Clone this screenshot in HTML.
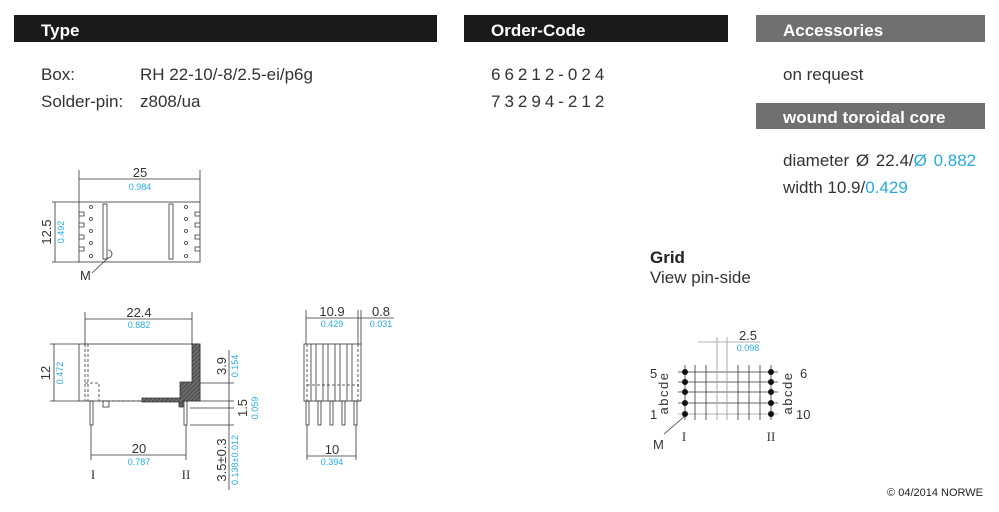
<!DOCTYPE html>
<html><head><meta charset="utf-8"><style>
body{margin:0;width:999px;height:512px;background:#fff;overflow:hidden;font-family:"Liberation Sans",sans-serif}
svg{position:absolute;left:0;top:0}
</style></head><body>
<svg width="999" height="512" viewBox="0 0 999 512" font-family="Liberation Sans, sans-serif">
<defs>
<pattern id="h" width="3" height="3" patternUnits="userSpaceOnUse" patternTransform="rotate(45)"><rect width="3" height="3" fill="#555"/><line x1="0" y1="0" x2="0" y2="3" stroke="#999" stroke-width="1"/></pattern>
</defs>
<rect x="14" y="15" width="423" height="27" fill="#1a1a1a"/>
<text x="41" y="36" fill="#fff" font-size="17" font-weight="bold">Type</text>
<rect x="464" y="15" width="264" height="27" fill="#1a1a1a"/>
<text x="491" y="36" fill="#fff" font-size="17" font-weight="bold">Order-Code</text>
<rect x="756" y="15" width="229" height="27" fill="#707070"/>
<text x="783" y="36" fill="#fff" font-size="17" font-weight="bold">Accessories</text>
<rect x="756" y="103" width="229" height="26" fill="#707070"/>
<text x="783" y="123" fill="#fff" font-size="17" font-weight="bold">wound toroidal core</text>
<g font-size="17" fill="#333">
<text x="41" y="80">Box:</text><text x="140" y="80">RH 22-10/-8/2.5-ei/p6g</text>
<text x="41" y="107">Solder-pin:</text><text x="140" y="107">z808/ua</text>
<text x="491" y="80" letter-spacing="4">66212-024</text>
<text x="491" y="107" letter-spacing="4">73294-212</text>
<text x="783" y="80">on request</text>
<text x="783" y="166" word-spacing="2">diameter  Ø 22.4/<tspan fill="#2aa8e0">Ø 0.882</tspan></text>
<text x="783" y="193">width 10.9/<tspan fill="#2aa8e0">0.429</tspan></text>
<text x="650" y="263" font-weight="bold" fill="#222">Grid</text>
<text x="650" y="283">View pin-side</text>
</g>
<text x="983" y="496" font-size="11" fill="#222" text-anchor="end">© 04/2014 NORWE</text>

<g stroke="#333" fill="none" stroke-width="0.8">
<rect x="79" y="202" width="121" height="60"/>
<line x1="79" y1="170" x2="79" y2="202"/><line x1="200" y1="170" x2="200" y2="202"/>
<line x1="79" y1="179" x2="200" y2="179"/>
<line x1="52" y1="202" x2="79" y2="202"/><line x1="52" y1="262" x2="79" y2="262"/>
<line x1="55" y1="202" x2="55" y2="262"/>
<rect x="103" y="204" width="4" height="55"/><rect x="169" y="204" width="4" height="55"/>
<path d="M79 212h5v4h-5M79 223h5v4h-5M79 235h5v4h-5M79 247h5v4h-5M200 212h-5v4h5M200 223h-5v4h5M200 235h-5v4h5M200 247h-5v4h5"/>
<circle cx="91" cy="207" r="1.5"/><circle cx="91" cy="219" r="1.5"/><circle cx="91" cy="231" r="1.5"/><circle cx="91" cy="243" r="1.5"/><circle cx="91" cy="256" r="1.5"/>
<circle cx="186" cy="207" r="1.5"/><circle cx="186" cy="219" r="1.5"/><circle cx="186" cy="231" r="1.5"/><circle cx="186" cy="243" r="1.5"/><circle cx="186" cy="256" r="1.5"/>
<path d="M108 250a4 4 0 0 1 0 8"/><line x1="108" y1="258" x2="92" y2="273"/>
<rect x="79" y="344" width="121" height="57"/>
<line x1="85" y1="344" x2="85" y2="401" stroke-dasharray="3,2"/>
<line x1="88" y1="344" x2="88" y2="401" stroke-dasharray="3,2"/>
<path d="M85 383h14v18h44" stroke-dasharray="3,2"/>
<line x1="85" y1="312" x2="85" y2="344"/><line x1="192" y1="312" x2="192" y2="344"/>
<line x1="85" y1="319" x2="192" y2="319"/>
<line x1="50" y1="344" x2="79" y2="344"/><line x1="50" y1="401" x2="79" y2="401"/>
<line x1="54" y1="344" x2="54" y2="401"/>
<rect x="90" y="401" width="3" height="24"/><line x1="91" y1="425" x2="91" y2="460"/>
<rect x="184" y="401" width="3" height="24"/><line x1="186" y1="425" x2="186" y2="460"/>
<rect x="103" y="401" width="6" height="6"/>
<line x1="91" y1="455" x2="186" y2="455"/>
<line x1="200" y1="383" x2="234" y2="383"/><line x1="200" y1="401" x2="234" y2="401"/>
<line x1="190" y1="408" x2="234" y2="408"/><line x1="190" y1="425" x2="234" y2="425"/>
<line x1="229" y1="350" x2="229" y2="490"/>
</g>
<path d="M192 344h8v57h-17v6h-4v-5h-37v-4h38v-16h12z" fill="url(#h)" stroke="#333" stroke-width="0.8"/>
<g stroke="#333" fill="none" stroke-width="0.8">
<rect x="304" y="344" width="57" height="57"/>
<line x1="311" y1="344" x2="311" y2="401"/><line x1="316" y1="344" x2="316" y2="401"/>
<line x1="323" y1="344" x2="323" y2="401"/><line x1="328" y1="344" x2="328" y2="401"/>
<line x1="335" y1="344" x2="335" y2="401"/><line x1="340" y1="344" x2="340" y2="401"/>
<line x1="347" y1="344" x2="347" y2="401"/><line x1="352" y1="344" x2="352" y2="401"/>
<line x1="307" y1="385" x2="359" y2="385" stroke-dasharray="3,2"/>
<line x1="307" y1="344" x2="307" y2="401" stroke-dasharray="3,2"/>
<line x1="358" y1="344" x2="358" y2="401" stroke-dasharray="3,2"/>
<rect x="306" y="401" width="3" height="24"/><rect x="318" y="401" width="3" height="24"/><rect x="330" y="401" width="3" height="24"/><rect x="342" y="401" width="3" height="24"/><rect x="354" y="401" width="3" height="24"/>
<line x1="306" y1="310" x2="306" y2="344"/><line x1="358" y1="310" x2="358" y2="344"/><line x1="361" y1="310" x2="361" y2="344"/>
<line x1="306" y1="318" x2="394" y2="318"/>
<line x1="307" y1="425" x2="307" y2="460"/><line x1="356" y1="425" x2="356" y2="460"/>
<line x1="307" y1="456" x2="356" y2="456"/>
</g>
<g stroke="#333" stroke-width="0.8">
<line x1="678" y1="372" x2="778" y2="372"/><line x1="678" y1="382" x2="778" y2="382"/><line x1="678" y1="392" x2="778" y2="392"/><line x1="678" y1="403" x2="778" y2="403"/><line x1="678" y1="414" x2="778" y2="414" stroke="#999"/>
<line x1="685" y1="365" x2="685" y2="420"/><line x1="695" y1="365" x2="695" y2="420"/><line x1="706" y1="365" x2="706" y2="420"/>
<line x1="717" y1="337" x2="717" y2="420" stroke="#999"/><line x1="727" y1="337" x2="727" y2="420" stroke="#999"/>
<line x1="738" y1="365" x2="738" y2="420"/><line x1="749" y1="365" x2="749" y2="420"/><line x1="760" y1="365" x2="760" y2="420"/><line x1="771" y1="365" x2="771" y2="420"/>
<line x1="698" y1="342" x2="760" y2="342" stroke="#999"/>
<line x1="685" y1="416" x2="664" y2="434"/>
</g>
<g fill="#111">
<circle cx="685" cy="372" r="3"/><circle cx="685" cy="382" r="3"/><circle cx="685" cy="392" r="3"/><circle cx="685" cy="403" r="3"/><circle cx="685" cy="414" r="3"/>
<circle cx="771" cy="372" r="3"/><circle cx="771" cy="382" r="3"/><circle cx="771" cy="392" r="3"/><circle cx="771" cy="403" r="3"/><circle cx="771" cy="414" r="3"/>
</g>
<g font-size="13" fill="#333" text-anchor="middle">
<text x="140" y="177">25</text>
<text x="139" y="317">22.4</text>
<text x="139" y="453">20</text>
<text x="332" y="316">10.9</text>
<text x="381" y="316">0.8</text>
<text x="332" y="454">10</text>
<text x="748" y="340">2.5</text>
<text x="93" y="479" font-family="Liberation Serif">I</text>
<text x="186" y="479" font-family="Liberation Serif">II</text>
<text x="684" y="441" font-family="Liberation Serif">I</text>
<text x="771" y="441" font-family="Liberation Serif">II</text>
</g>
<g font-size="9" fill="#2aa8e0" text-anchor="middle">
<text x="140" y="190">0.984</text>
<text x="139" y="328">0.882</text>
<text x="139" y="465">0.787</text>
<text x="332" y="327">0.429</text>
<text x="381" y="327">0.031</text>
<text x="332" y="465">0.394</text>
<text x="748" y="351">0.098</text>
</g>
<g font-size="13" fill="#333">
<text transform="translate(51,232) rotate(-90)" text-anchor="middle">12.5</text>
<text transform="translate(50,373) rotate(-90)" text-anchor="middle">12</text>
<text transform="translate(226,366) rotate(-90)" text-anchor="middle">3.9</text>
<text transform="translate(247,408) rotate(-90)" text-anchor="middle">1.5</text>
<text transform="translate(226,460) rotate(-90)" text-anchor="middle">3.5±0.3</text>
<text x="650" y="378">5</text><text x="650" y="419">1</text>
<text x="800" y="378">6</text><text x="796" y="419">10</text>
<text x="653" y="449">M</text>
<text x="80" y="280">M</text>
<text transform="translate(668,393) rotate(-90)" text-anchor="middle" letter-spacing="1.5">abcde</text>
<text transform="translate(792,393) rotate(-90)" text-anchor="middle" letter-spacing="1.5">abcde</text>
</g>
<g font-size="9" fill="#2aa8e0">
<text transform="translate(64,232) rotate(-90)" text-anchor="middle">0.492</text>
<text transform="translate(63,373) rotate(-90)" text-anchor="middle">0.472</text>
<text transform="translate(238,366) rotate(-90)" text-anchor="middle">0.154</text>
<text transform="translate(258,408) rotate(-90)" text-anchor="middle">0.059</text>
<text transform="translate(238,460) rotate(-90)" text-anchor="middle">0.138±0.012</text>
</g>
</svg>
</body></html>
